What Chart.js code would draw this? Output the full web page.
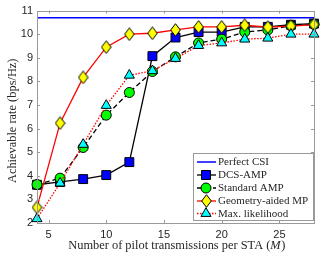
<!DOCTYPE html>
<html><head><meta charset="utf-8">
<script src="https://cdn.jsdelivr.net/npm/chart.js@4/dist/chart.umd.min.js"></script>
<style>html,body{margin:0;padding:0;background:#fff;overflow:hidden}#wrap{width:329px;height:255px}</style>
</head><body><div id="wrap"><canvas id="c" width="329" height="255"></canvas></div>
<script>
// ---- data ----
const pilots = [4, 6, 8, 10, 12, 14, 16, 18, 20, 22, 24, 26, 28];
const perfectCSI = [10.7, 10.7, 10.7, 10.7, 10.7, 10.7, 10.7, 10.7, 10.7, 10.7, 10.7, 10.7, 10.7];
const dcsAmp = [3.62, 3.74, 3.86, 4.03, 4.58, 9.07, 9.86, 10.09, 10.09, 10.31, 10.31, 10.40, 10.45];
const standardAmp = [3.63, 3.90, 5.20, 6.57, 7.53, 8.42, 9.04, 9.63, 9.79, 10.09, 10.18, 10.36, 10.42];
const geometryMp = [2.66, 6.23, 8.17, 9.45, 10.00, 10.04, 10.18, 10.31, 10.31, 10.38, 10.30, 10.34, 10.41];
const maxLikelihood = [2.18, 3.69, 5.33, 6.98, 8.26, 8.45, 8.97, 9.52, 9.63, 9.79, 9.83, 10.00, 10.00];
const seriesNames = ['Perfect CSI', 'DCS-AMP', 'Standard AMP', 'Geometry-aided MP', 'Max. likelihood'];
const xTicks = [5, 10, 15, 20, 25];
const yTicks = [2, 3, 4, 5, 6, 7, 8, 9, 10, 11];
const xTitle = 'Number of pilot transmissions per STA (';
const xTitleVar = 'M';
const yTitle = 'Achievable rate (bps/Hz)';

// ---- styling helpers ----
const SERIF = '"Liberation Serif", "DejaVu Serif", serif';
const SANS = '"Liberation Sans", Arial, sans-serif';
const TITLE_PX = 12.4;

function makeDiamond() {
  const c = document.createElement('canvas');
  c.width = 11; c.height = 14;
  const g = c.getContext('2d');
  g.beginPath();
  g.moveTo(5.5, 0.7); g.lineTo(10.3, 7); g.lineTo(5.5, 13.3); g.lineTo(0.7, 7); g.closePath();
  g.fillStyle = '#ffff00'; g.fill();
  g.lineWidth = 1; g.strokeStyle = '#000'; g.stroke();
  return c;
}
const diamond = makeDiamond();

const pts = arr => pilots.map((x, i) => ({x: x, y: arr[i]}));

const datasets = [
  {label: seriesNames[0], data: pts(perfectCSI), borderColor: '#0000ff', borderWidth: 1.5, pointRadius: 0, order: 5,
   mk: null},
  {label: seriesNames[1], data: pts(dcsAmp), borderColor: '#000', borderWidth: 1.3, pointStyle: 'rect', pointRadius: 6.3,
   pointBackgroundColor: '#0000ff', pointBorderColor: '#000', pointBorderWidth: 1, order: 4, mk: 'sq'},
  {label: seriesNames[2], data: pts(standardAmp), borderColor: '#000', borderWidth: 1.3, borderDash: [5, 3], pointStyle: 'circle', pointRadius: 5,
   pointBackgroundColor: '#00ff00', pointBorderColor: '#000', pointBorderWidth: 1, order: 3, mk: 'ci'},
  {label: seriesNames[3], data: pts(geometryMp), borderColor: '#ff0000', borderWidth: 1.3, pointStyle: diamond, pointRadius: 6,
   order: 2, mk: 'di'},
  {label: seriesNames[4], data: pts(maxLikelihood), borderColor: '#ff0000', borderWidth: 1.3, borderDash: [1.5, 1.5], pointStyle: 'triangle', pointRadius: 5.8,
   pointBackgroundColor: '#00ffff', pointBorderColor: '#000', pointBorderWidth: 1, order: 1, mk: 'tr'}
];
datasets.forEach(d => { d.clip = false; d.tension = 0; d.fill = false; });

function drawMarker(ctx, kind, x, y) {
  ctx.save();
  ctx.lineWidth = 1; ctx.strokeStyle = '#000'; ctx.setLineDash([]);
  ctx.beginPath();
  if (kind === 'sq') {
    ctx.rect(x - 4.5, y - 4.5, 9, 9); ctx.fillStyle = '#0000ff';
  } else if (kind === 'ci') {
    ctx.arc(x, y, 5, 0, Math.PI * 2); ctx.fillStyle = '#00ff00';
  } else if (kind === 'tr') {
    const r = 5.8;
    ctx.moveTo(x, y - r);
    ctx.lineTo(x + r * Math.sin(2 * Math.PI / 3), y - r * Math.cos(2 * Math.PI / 3));
    ctx.lineTo(x + r * Math.sin(4 * Math.PI / 3), y - r * Math.cos(4 * Math.PI / 3));
    ctx.closePath(); ctx.fillStyle = '#00ffff';
  } else if (kind === 'di') {
    ctx.restore();
    ctx.drawImage(diamond, Math.round(x - diamond.width / 2), Math.round(y - diamond.height / 2));
    return;
  }
  ctx.fill(); ctx.stroke();
  ctx.restore();
}

const decor = {
  id: 'decor',
  afterDatasetsDraw(chart) {
    const ctx = chart.ctx, a = chart.chartArea;
    const xs = chart.scales.x, ys = chart.scales.y;
    ctx.save();
    // box
    ctx.strokeStyle = '#9a9a9a'; ctx.lineWidth = 1;
    ctx.strokeRect(Math.round(a.left) + 0.5, Math.round(a.top) + 0.5, Math.round(a.right - a.left), Math.round(a.bottom - a.top));
    // inward ticks
    ctx.beginPath();
    xTicks.forEach(v => {
      const px = Math.round(xs.getPixelForValue(v)) + 0.5;
      ctx.moveTo(px, a.bottom); ctx.lineTo(px, a.bottom - 3);
      ctx.moveTo(px, a.top); ctx.lineTo(px, a.top + 3);
    });
    yTicks.forEach(v => {
      const py = Math.round(ys.getPixelForValue(v)) + 0.5;
      ctx.moveTo(a.left, py); ctx.lineTo(a.left + 3, py);
      ctx.moveTo(a.right, py); ctx.lineTo(a.right - 3, py);
    });
    ctx.stroke();

    // axis titles
    ctx.fillStyle = '#262626';
    ctx.textBaseline = 'middle';
    const F = TITLE_PX + 'px ' + SERIF, FI = 'italic ' + TITLE_PX + 'px ' + SERIF;
    ctx.font = F;
    const w1 = ctx.measureText(xTitle).width;
    ctx.font = FI;
    const w2 = ctx.measureText(xTitleVar).width;
    ctx.font = F;
    const w3 = ctx.measureText(')').width;
    let sx = (a.left + a.right) / 2 + 1 - (w1 + w2 + w3) / 2;
    const ty = 246;
    ctx.textAlign = 'left';
    ctx.fillText(xTitle, sx, ty);
    ctx.font = FI;
    ctx.fillText(xTitleVar, sx + w1, ty);
    ctx.font = F;
    ctx.fillText(')', sx + w1 + w2 + 0.5, ty);

    ctx.save();
    ctx.translate(12.5, (a.top + a.bottom) / 2 + 4);
    ctx.rotate(-Math.PI / 2);
    ctx.textAlign = 'center';
    ctx.fillText(yTitle, 0, 0);
    ctx.restore();

    // legend
    const L = 193.5, T = 153.5, R = 313.5, B = 220.5;
    ctx.fillStyle = '#fff';
    ctx.fillRect(L, T, R - L, B - T);
    ctx.strokeStyle = '#9a9a9a'; ctx.lineWidth = 1;
    ctx.strokeRect(L, T, R - L, B - T);
    const rows = [162, 175, 188, 201, 213.5];
    ctx.font = '11px ' + SERIF;
    ctx.textAlign = 'left';
    ctx.textBaseline = 'middle';
    datasets.forEach((d, k) => {
      const y = rows[k];
      ctx.save();
      ctx.strokeStyle = d.borderColor; ctx.lineWidth = d.borderWidth;
      ctx.setLineDash(d.borderDash || []);
      ctx.beginPath(); ctx.moveTo(197, y); ctx.lineTo(216, y); ctx.stroke();
      ctx.restore();
      if (d.mk) drawMarker(ctx, d.mk, 206, y);
      ctx.fillStyle = '#262626';
      ctx.fillText(d.label, 218, y + 0.5);
    });
    ctx.restore();
  }
};

new Chart(document.getElementById('c'), {
  type: 'line',
  data: {datasets: datasets},
  options: {
    responsive: false,
    animation: false,
    devicePixelRatio: 1,
    layout: {padding: {top: 4, right: 15, left: 0, bottom: 0}},
    plugins: {legend: {display: false}, tooltip: {enabled: false}},
    scales: {
      x: {
        type: 'linear', min: 4, max: 28,
        afterBuildTicks: s => { s.ticks = xTicks.map(v => ({value: v})); },
        afterFit: s => { s.height = 32; },
        grid: {display: false, drawTicks: false},
        border: {display: false},
        ticks: {font: {family: SANS, size: 11}, color: '#262626', padding: 5, maxRotation: 0, autoSkip: false}
      },
      y: {
        type: 'linear', min: 2, max: 11,
        afterBuildTicks: s => { s.ticks = yTicks.map(v => ({value: v})); },
        afterFit: s => { s.width = 37; },
        grid: {display: false, drawTicks: false},
        border: {display: false},
        ticks: {font: {family: SANS, size: 11}, color: '#262626', padding: 4, autoSkip: false}
      }
    }
  },
  plugins: [decor]
});
</script>
</body></html>
